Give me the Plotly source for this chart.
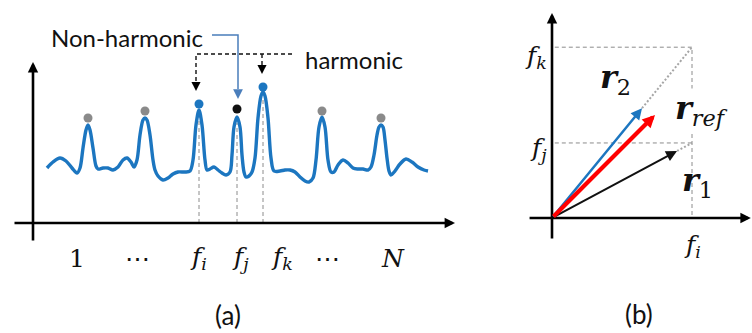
import plotly.graph_objects as go

# ---------------- panel (a): magnitude spectrum ----------------
# spectrum samples: frequency position and magnitude (axis baseline = 0)
spec_x = [47, 53, 60, 66, 72, 77, 80, 83, 86, 88, 90, 93, 96, 98, 103, 108, 113, 118,
          123, 127, 131, 134, 137, 140, 143, 145, 147, 150, 153, 155, 158, 163, 168,
          173, 178, 185, 190, 193, 196, 199, 202, 205, 207, 210, 214, 218, 222, 226,
          230, 232, 234, 237, 240, 242, 244, 246, 249, 252, 255, 258, 261, 263, 265,
          268, 271, 274, 280, 285, 290, 295, 300, 305, 309, 313, 316, 319, 322, 325,
          328, 331, 334, 338, 343, 348, 353, 358, 363, 368, 371, 374, 377, 379, 381,
          383, 385, 387, 389, 391, 395, 400, 406, 412, 418, 424, 428]
spec_amp = [55, 61, 65, 62, 55, 50, 55, 75, 93, 98, 93, 75, 57, 54, 55, 55, 53, 56,
            63, 65, 61, 56, 63, 88, 103, 105, 103, 88, 63, 53, 47, 43, 45,
            49, 51, 51, 52, 63, 98, 113, 98, 63, 53, 54, 56, 53, 50, 48,
            51, 68, 96, 106, 96, 68, 51, 46, 47, 51, 65, 105, 127, 131, 127,
            105, 65, 52, 52, 53, 53, 51, 46, 42, 41, 45, 63, 96, 106, 96,
            63, 51, 51, 58, 63, 60, 55, 54, 54, 53, 56, 68, 88, 96, 98,
            96, 83, 65, 52, 48, 52, 59, 64, 61, 56, 53, 52]

# detected peaks (dots above each peak)
peak_x = [88, 145, 199, 237, 263, 322, 381]
peak_amp = [105, 112, 119, 114, 136, 112, 105]
peak_kind = ["other", "other", "harmonic", "non-harmonic", "harmonic", "other", "other"]
peak_top = [98, 105, 113, 106, 131, 106, 98]

# frequency labels under the axis
tick_pos = [77, 137, 198, 240, 282, 327, 393]
tick_text = ["1", "⋯", "<i>f<sub>i</sub></i>", "<i>f<sub>j</sub></i>",
             "<i>f<sub>k</sub></i>", "⋯", "<i>N</i>"]

# ---------------- panel (b): bin vectors ----------------
f_i, f_j, f_k = 1.0, 0.536, 1.22
r1_len, r2_len, rref_len = 0.893, 0.643, 0.736   # fraction of the full vector drawn

SPEC_BLUE = "#1c76c0"
LINK_BLUE = "#4a7ebb"
GREY = "#8c8c8c"
SERIF = "DejaVu Serif"
SANS = "Lato"

kind_color = {"other": "#8a8a8a", "harmonic": SPEC_BLUE, "non-harmonic": "#111111"}

fig = go.Figure()

# guides from the three marked peaks down to the frequency axis
for k in (2, 3, 4):
    fig.add_trace(go.Scatter(x=[peak_x[k], peak_x[k]], y=[0, peak_top[k] - 6], mode="lines",
                             line=dict(color=GREY, width=1, dash="4px,3px"),
                             hoverinfo="skip"))

# spectrum curve
fig.add_trace(go.Scatter(x=spec_x, y=spec_amp, mode="lines",
                         line=dict(color=SPEC_BLUE, width=3.4, shape="spline", smoothing=0.9),
                         hoverinfo="skip"))

# peak dots
fig.add_trace(go.Scatter(x=peak_x, y=peak_amp, mode="markers",
                         marker=dict(size=9, color=[kind_color[k] for k in peak_kind]),
                         hoverinfo="skip"))

# "harmonic" connector (dashed)
fig.add_trace(go.Scatter(x=[292, peak_x[2] - 3, peak_x[2] - 3], y=[169, 169, 140], mode="lines",
                         line=dict(color="#111111", width=1.4, dash="4px,3px"), hoverinfo="skip"))
fig.add_trace(go.Scatter(x=[peak_x[4] - 1, peak_x[4] - 1], y=[169, 157], mode="lines",
                         line=dict(color="#111111", width=1.4, dash="4px,3px"), hoverinfo="skip"))
# "Non-harmonic" connector (solid)
fig.add_trace(go.Scatter(x=[212, peak_x[3] + 1, peak_x[3] + 1], y=[188, 188, 134], mode="lines",
                         line=dict(color=LINK_BLUE, width=1.5), hoverinfo="skip"))

# ---------------- panel (b) guides ----------------
fig.add_trace(go.Scatter(x=[0.02, f_i, f_i], y=[f_k, f_k, 0], mode="lines", xaxis="x2", yaxis="y2",
                         line=dict(color=GREY, width=1, dash="4px,3px"), hoverinfo="skip"))
fig.add_trace(go.Scatter(x=[0.02, f_i], y=[f_j, f_j], mode="lines", xaxis="x2", yaxis="y2",
                         line=dict(color=GREY, width=1, dash="4px,3px"), hoverinfo="skip"))
fig.add_trace(go.Scatter(x=[r2_len * f_i, f_i], y=[r2_len * f_k, f_k], mode="lines",
                         xaxis="x2", yaxis="y2",
                         line=dict(color="#a6a6a6", width=2, dash="2px,2px"), hoverinfo="skip"))
fig.add_trace(go.Scatter(x=[r1_len * f_i, f_i], y=[r1_len * f_j, f_j], mode="lines",
                         xaxis="x2", yaxis="y2",
                         line=dict(color="#a6a6a6", width=2, dash="2px,2px"), hoverinfo="skip"))

ann = []


def arrow(x, y, ax, ay, color, width, size, ref=("x", "y")):
    ann.append(dict(x=x, y=y, ax=ax, ay=ay, xref=ref[0], yref=ref[1], axref=ref[0], ayref=ref[1],
                    showarrow=True, arrowhead=2, arrowsize=size, arrowwidth=width,
                    arrowcolor=color, text="", standoff=0))


def head(x, y, color, width, size, ref=("x", "y")):
    # short arrow whose head caps a connector line
    ann.append(dict(x=x, y=y, ax=0, ay=-9, xref=ref[0], yref=ref[1],
                    showarrow=True, arrowhead=2, arrowsize=size, arrowwidth=width,
                    arrowcolor=color, text="", standoff=0))


def label(x, y, text, size, family, ref=("x", "y"), **kw):
    d = dict(x=x, y=y, xref=ref[0], yref=ref[1], text=text, showarrow=False,
             font=dict(family=family, size=size, color="#111111"))
    d.update(kw)
    ann.append(d)


# panel (a) axes
arrow(33, 161, 33, -19, "#000000", 2.6, 0.8)
arrow(455, 0, 13, 0, "#000000", 2.6, 0.8)

# connector arrowheads
head(peak_x[2] - 3, 132, "#000000", 1.4, 1.3)
head(peak_x[4] - 1, 149, "#000000", 1.4, 1.3)
head(peak_x[3] + 1, 124, LINK_BLUE, 1.5, 1.3)

label(127, 186, "Non-harmonic", 24, SANS)
label(354, 164, "harmonic", 24, SANS)

for xp, t in zip(tick_pos, tick_text):
    label(xp, -35, t, 25, SERIF)

label(228, -92, "(a)", 26, SANS)
label(639, -91, "(b)", 26, SANS)

# panel (b) axes
B = ("x2", "y2")
arrow(0, 1.464, 0, -0.157, "#000000", 2.6, 0.8, B)
arrow(1.42, 0, -0.171, 0, "#000000", 2.6, 0.8, B)

# vectors
arrow(r1_len * f_i, r1_len * f_j, 0, 0, "#111111", 2, 1.1, B)
arrow(r2_len * f_i, r2_len * f_k, 0, 0, SPEC_BLUE, 2.5, 0.9, B)
arrow(rref_len, rref_len, 0, 0, "#ff0000", 4.2, 0.6, B)

label(0, f_k, "<i>f<sub>k</sub></i>", 25, SERIF, B, xanchor="right", xshift=-3, yshift=-10)
label(0, f_j, "<i>f<sub>j</sub></i>", 25, SERIF, B, xanchor="right", xshift=-3, yshift=-6)
label(f_i, 0, "<i>f<sub>i</sub></i>", 25, SERIF, B, yanchor="top", yshift=-10)

label(0.45, 0.99, "<b><i>r</i></b><sub>2</sub>", 32, SERIF, B)
label(1.07, 0.77, "<b><i>r</i></b><sub><i>ref</i></sub>", 32, SERIF, B, bgcolor="#ffffff", borderpad=0)
label(1.04, 0.26, "<b><i>r</i></b><sub>1</sub>", 32, SERIF, B)

fig.update_layout(
    width=752, height=333, margin=dict(l=0, r=0, t=0, b=0),
    paper_bgcolor="white", plot_bgcolor="white", showlegend=False,
    annotations=ann,
    xaxis=dict(range=[0, 752], visible=False, domain=[0, 1]),
    yaxis=dict(range=[-110, 223], visible=False, domain=[0, 1]),
    xaxis2=dict(range=[-552 / 140, 200 / 140], visible=False, overlaying="x", anchor="y2"),
    yaxis2=dict(range=[-115 / 140, 218 / 140], visible=False, overlaying="y", anchor="x2"),
)

fig.write_html("out.html")
